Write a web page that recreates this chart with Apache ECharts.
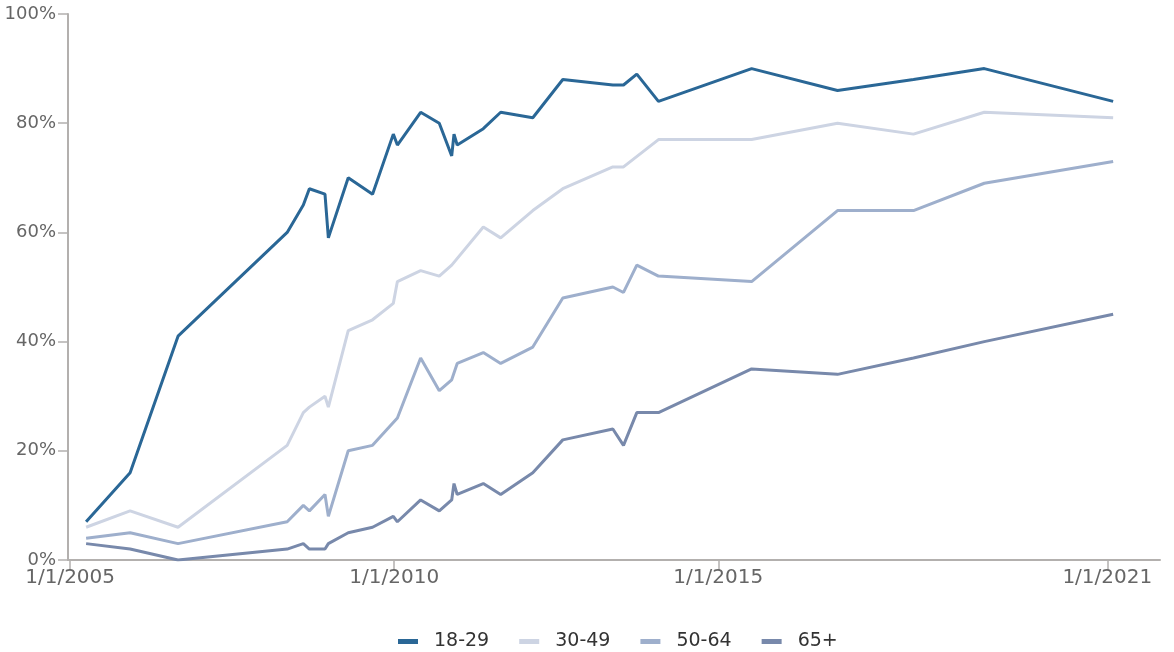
<!DOCTYPE html>
<html>
<head>
<meta charset="utf-8">
<script src="https://cdn.jsdelivr.net/npm/echarts@6/dist/echarts.min.js"></script>
<style>
html,body{margin:0;padding:0;background:#fff;}
#chart{width:1174px;height:652px;}
</style>
</head>
<body>
<div id="chart"></div>
<script>
const dates = [
  '2005-04-01','2005-12-05','2006-09-01','2008-05-08','2008-08-07','2008-09-10',
  '2008-12-07','2008-12-26','2009-04-17','2009-09-01','2009-12-27','2010-01-19',
  '2010-05-30','2010-09-12','2010-11-21','2010-12-04','2010-12-22','2011-05-18',
  '2011-08-24','2012-02-21','2012-08-08','2013-05-17','2013-07-16','2013-09-29',
  '2014-01-29','2015-07-08','2016-11-03','2018-01-05','2019-02-08','2021-02-03'
];
const seriesNames = ['18-29','30-49','50-64','65+'];
const age18_29 = [7,16,41,60,65,68,67,59,70,67,78,76,82,80,74,78,76,79,82,81,88,87,87,89,84,90,86,88,90,84];
const age30_49 = [6,9,6,21,27,28,30,28,42,44,47,51,53,52,54,null,null,61,59,64,68,72,72,null,77,77,80,78,82,81];
const age50_64 = [4,5,3,7,10,9,12,8,20,21,null,26,37,31,33,null,36,38,36,39,48,50,49,54,52,51,64,64,69,73];
const age65plus = [3,2,0,2,3,2,2,3,5,6,8,7,11,9,11,14,12,14,12,16,22,24,21,27,27,35,34,37,40,45];
const xTickDates = ['2005-01-01','2010-01-01','2015-01-01','2021-01-01'];
const xTickLabels = ['1/1/2005','1/1/2010','1/1/2015','1/1/2021'];

const colors = ['#2a6796','#cdd4e3','#9eafcc','#7889ab'];
const allValues = [age18_29, age30_49, age50_64, age65plus];

const ts = d => Date.UTC(+d.slice(0,4), +d.slice(5,7) - 1, +d.slice(8,10));
const chart = echarts.init(document.getElementById('chart'));
const tickTimes = xTickDates.map(ts);
const labelMap = {};
tickTimes.forEach((t, i) => { labelMap[t] = xTickLabels[i]; });

chart.setOption({
  animation: false,
  color: colors,
  grid: {left: 68, right: 14, top: 14, bottom: 92, containLabel: false},
  legend: {
    left: 393, top: 627,
    itemWidth: 20, itemHeight: 5, itemGap: 30,
    icon: 'rect',
    textStyle: {fontFamily: 'DejaVu Sans', fontSize: 19, color: '#333', padding: [0,0,0,11]},
    data: seriesNames
  },
  xAxis: {
    type: 'value',
    min: ts('2004-12-20'),
    max: ts('2021-10-25'),
    axisLine: {show: true, lineStyle: {color: '#b3b0ae', width: 2}},
    axisTick: {show: true, length: 10, lineStyle: {color: '#b3b0ae', width: 1.5}, customValues: tickTimes},
    axisLabel: {
      customValues: tickTimes,
      formatter: v => labelMap[v] || '',
      fontFamily: 'DejaVu Sans', fontSize: 20, color: '#666', margin: 8,
      hideOverlap: false
    },
    splitLine: {show: false}
  },
  yAxis: {
    type: 'value', min: 0, max: 100, interval: 20,
    axisLine: {show: true, lineStyle: {color: '#b3b0ae', width: 2}},
    axisTick: {show: true, length: 10, lineStyle: {color: '#b3b0ae', width: 1.5}},
    axisLabel: {formatter: v => v + '%', fontFamily: 'DejaVu Sans', fontSize: 18, color: '#666', margin: 12},
    splitLine: {show: false}
  },
  series: seriesNames.map((name, i) => ({
    name: name,
    type: 'line',
    data: dates.map((d, j) => [ts(d), allValues[i][j]]),
    connectNulls: true,
    showSymbol: false,
    symbol: 'none',
    lineStyle: {width: 3, color: colors[i]},
    itemStyle: {color: colors[i]},
    z: 10 - i
  }))
});
</script>
</body>
</html>
